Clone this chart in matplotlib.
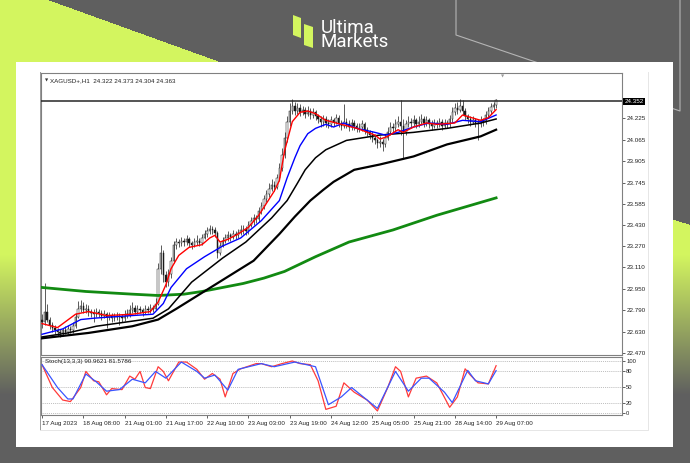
import numpy as np
import matplotlib
matplotlib.use("Agg")
import matplotlib.pyplot as plt
from matplotlib.patches import Rectangle, Polygon

W, H = 690, 463
SMALL = "Liberation Sans"

# XAGUSD H1 candles, 17 Aug 16:00 -> 29 Aug 07:00
first_open = 22.72
closes = [
    22.70, 22.78, 22.72, 22.68, 22.66, 22.64, 22.63, 22.62, 22.64, 22.63,
    22.65, 22.64, 22.67, 22.74, 22.80, 22.82, 22.79, 22.80, 22.78, 22.77,
    22.76, 22.78, 22.77, 22.75, 22.76, 22.74, 22.75, 22.73, 22.74, 22.75,
    22.74, 22.73, 22.75, 22.76, 22.79, 22.81, 22.78, 22.80, 22.79, 22.78,
    22.80, 22.79, 22.81, 22.80, 22.84, 23.10, 23.22, 23.05, 23.00, 23.06,
    23.16, 23.28, 23.30, 23.29, 23.31, 23.30, 23.32, 23.29, 23.28, 23.30,
    23.31, 23.29, 23.33, 23.36, 23.38, 23.40, 23.39, 23.37, 23.22, 23.27,
    23.31, 23.33, 23.35, 23.34, 23.36, 23.35, 23.37, 23.39, 23.40, 23.38,
    23.43, 23.46, 23.48, 23.47, 23.53, 23.57, 23.62, 23.66, 23.70, 23.73,
    23.71, 23.78, 23.85, 23.95, 24.08, 24.20, 24.28, 24.32, 24.28, 24.30,
    24.27, 24.29, 24.26, 24.28, 24.25, 24.27, 24.24, 24.22, 24.20, 24.22,
    24.19, 24.18, 24.21, 24.20, 24.23, 24.19, 24.17, 24.20, 24.18, 24.16,
    24.19, 24.17, 24.15, 24.16, 24.18, 24.14, 24.12, 24.10, 24.08, 24.06,
    24.04, 24.05, 24.03, 24.08, 24.12, 24.16, 24.15, 24.18, 24.20, 24.17,
    24.12, 24.18, 24.20, 24.19, 24.21, 24.18, 24.20, 24.22, 24.19, 24.21,
    24.18, 24.17, 24.19, 24.18, 24.20, 24.17, 24.19, 24.18, 24.22, 24.27,
    24.30, 24.29, 24.32, 24.28, 24.24, 24.22, 24.20, 24.21, 24.19, 24.18,
    24.21, 24.20, 24.25, 24.28, 24.31, 24.322, 24.363,
]
highs = [
    22.76, 22.99, 22.84, 22.74, 22.70, 22.68, 22.66, 22.65, 22.66, 22.67,
    22.68, 22.67, 22.70, 22.77, 22.86, 22.87, 22.85, 22.84, 22.83, 22.80,
    22.80, 22.81, 22.80, 22.79, 22.79, 22.78, 22.78, 22.77, 22.77, 22.78,
    22.77, 22.76, 22.79, 22.80, 22.83, 22.85, 22.83, 22.83, 22.82, 22.81,
    22.83, 22.82, 22.84, 22.83, 22.88, 23.14, 23.28, 23.24, 23.08, 23.10,
    23.19, 23.31, 23.33, 23.32, 23.34, 23.33, 23.35, 23.34, 23.31, 23.33,
    23.35, 23.33, 23.36, 23.39, 23.41, 23.43, 23.42, 23.41, 23.38, 23.30,
    23.34, 23.36, 23.38, 23.37, 23.39, 23.38, 23.40, 23.43, 23.43, 23.42,
    23.46, 23.49, 23.51, 23.50, 23.56, 23.60, 23.65, 23.69, 23.74, 23.77,
    23.76, 23.81, 23.89, 24.00, 24.12, 24.24, 24.34, 24.37, 24.35, 24.34,
    24.33, 24.32, 24.31, 24.32, 24.30, 24.30, 24.29, 24.26, 24.24, 24.25,
    24.24, 24.22, 24.24, 24.23, 24.26, 24.25, 24.21, 24.33, 24.23, 24.21,
    24.22, 24.21, 24.19, 24.19, 24.21, 24.20, 24.16, 24.14, 24.13, 24.11,
    24.08, 24.09, 24.07, 24.11, 24.16, 24.20, 24.19, 24.22, 24.24, 24.36,
    24.22, 24.21, 24.24, 24.23, 24.25, 24.23, 24.24, 24.26, 24.24, 24.24,
    24.23, 24.21, 24.22, 24.21, 24.23, 24.22, 24.22, 24.21, 24.25, 24.31,
    24.34, 24.35, 24.37, 24.36, 24.30, 24.26, 24.24, 24.24, 24.23, 24.22,
    24.24, 24.23, 24.28, 24.31, 24.34, 24.35, 24.373,
]
lows = [
    22.66, 22.68, 22.70, 22.65, 22.63, 22.61, 22.60, 22.59, 22.60, 22.61,
    22.61, 22.62, 22.62, 22.66, 22.73, 22.78, 22.77, 22.77, 22.75, 22.74,
    22.70, 22.74, 22.74, 22.72, 22.73, 22.66, 22.72, 22.70, 22.71, 22.72,
    22.68, 22.70, 22.71, 22.73, 22.74, 22.77, 22.76, 22.76, 22.77, 22.75,
    22.76, 22.77, 22.77, 22.78, 22.79, 22.83, 23.06, 23.00, 22.96, 22.97,
    23.03, 23.14, 23.25, 23.26, 23.27, 23.27, 23.28, 23.26, 23.25, 23.26,
    23.28, 23.27, 23.28, 23.32, 23.34, 23.36, 23.36, 23.34, 23.18, 23.20,
    23.26, 23.29, 23.31, 23.31, 23.32, 23.32, 23.33, 23.35, 23.36, 23.35,
    23.36, 23.41, 23.43, 23.44, 23.45, 23.51, 23.55, 23.60, 23.64, 23.68,
    23.68, 23.70, 23.76, 23.83, 23.93, 24.05, 24.17, 24.26, 24.25, 24.26,
    24.24, 24.25, 24.23, 24.24, 24.22, 24.23, 24.21, 24.19, 24.16, 24.17,
    24.16, 24.15, 24.16, 24.17, 24.18, 24.16, 24.14, 24.15, 24.15, 24.13,
    24.14, 24.14, 24.12, 24.12, 24.13, 24.11, 24.09, 24.07, 24.05, 24.03,
    24.00, 24.01, 23.98, 24.01, 24.06, 24.10, 24.12, 24.13, 24.16, 24.10,
    23.93, 24.10, 24.16, 24.16, 24.17, 24.15, 24.16, 24.18, 24.16, 24.17,
    24.15, 24.14, 24.15, 24.15, 24.16, 24.14, 24.15, 24.15, 24.16, 24.20,
    24.25, 24.26, 24.27, 24.25, 24.21, 24.19, 24.17, 24.18, 24.16, 24.06,
    24.16, 24.17, 24.18, 24.23, 24.26, 24.29, 24.304,
]

# moving averages, sampled at bar indices
red_idx = [0, 6, 13, 18, 25, 35, 42, 45, 48, 50, 53, 57, 62, 65, 67, 69, 72, 76, 80, 84,
           87, 90, 92, 94, 97, 100, 103, 106, 110, 116, 122, 129, 131, 134, 138, 140, 144,
           149, 153, 160, 163, 170, 173, 176]
red_ma = [22.69, 22.66, 22.76, 22.78, 22.75, 22.76, 22.78, 22.85, 22.98, 23.10, 23.20, 23.26,
          23.28, 23.33, 23.35, 23.30, 23.32, 23.36, 23.41, 23.50, 23.59, 23.68, 23.76, 23.98,
          24.20, 24.27, 24.28, 24.26, 24.21, 24.18, 24.15, 24.10, 24.07, 24.09, 24.14, 24.12,
          24.16, 24.19, 24.18, 24.19, 24.25, 24.21, 24.23, 24.29]
blue_idx = [0, 8, 15, 20, 27, 43, 47, 50, 56, 63, 70, 77, 85, 92, 95, 98, 100, 103, 106, 110,
            113, 117, 122, 129, 133, 138, 144, 150, 157, 163, 170, 176]
blue_ma = [22.61, 22.65, 22.72, 22.73, 22.74, 22.76, 22.84, 22.96, 23.10, 23.19, 23.27, 23.33,
           23.46, 23.61, 23.78, 23.93, 24.02, 24.11, 24.15, 24.18, 24.16, 24.19, 24.15, 24.12,
           24.10, 24.12, 24.16, 24.19, 24.18, 24.21, 24.20, 24.25]
mid_idx = [0, 10, 21, 32, 43, 49, 58, 70, 79, 89, 95, 99, 102, 106, 110, 118, 131, 144, 157,
           170, 176]
mid_ma = [22.59, 22.62, 22.67, 22.70, 22.73, 22.80, 23.00, 23.18, 23.30, 23.48, 23.61, 23.74,
          23.84, 23.93, 23.99, 24.06, 24.10, 24.12, 24.15, 24.19, 24.22]
slow_idx = [0, 18, 35, 45, 52, 62, 72, 82, 92, 98, 104, 109, 113, 121, 131, 144, 157, 170, 176]
slow_ma = [22.58, 22.62, 22.67, 22.72, 22.80, 22.92, 23.04, 23.16, 23.36, 23.49, 23.61, 23.69,
           23.75, 23.84, 23.88, 23.94, 24.03, 24.09, 24.14]
green_idx = [0, 17, 35, 45, 55, 62, 78, 86, 94, 106, 119, 136, 153, 176]
green_ma = [22.96, 22.93, 22.91, 22.90, 22.91, 22.93, 22.99, 23.03, 23.08, 23.19, 23.30, 23.39,
            23.50, 23.63]

# Stochastic (13,3,3)
k_idx = [0, 4, 8, 11, 15, 17, 20, 22, 25, 27, 31, 34, 36, 38, 40, 42, 45, 47, 49, 53,
         56, 60, 63, 66, 69, 71, 74, 77, 83, 85, 89, 93, 97, 100, 104, 107, 110, 114, 117, 121,
         126, 130, 134, 137, 139, 142, 145, 149, 153, 158, 161, 164, 166, 169, 173, 176]
k_val = [93, 49, 25, 22, 49, 80, 62, 60, 35, 47, 45, 71, 65, 80, 49, 47, 89, 80, 62, 98,
         98, 84, 65, 76, 65, 31, 76, 85, 95, 95, 89, 95, 100, 95, 93, 62, 7, 13, 58, 40,
         25, 4, 49, 89, 80, 31, 67, 71, 58, 11, 31, 85, 73, 58, 56, 90.96]
d_idx = [0, 6, 10, 12, 17, 21, 25, 30, 35, 40, 44, 48, 54, 60, 63, 67, 72, 76, 85, 90,
         98, 106, 111, 116, 120, 125, 130, 137, 142, 147, 150, 156, 159, 165, 168, 173, 176]
d_val = [93, 49, 27, 27, 75, 60, 42, 45, 65, 58, 80, 67, 98, 80, 67, 73, 44, 84, 95, 89,
         98, 89, 16, 31, 49, 29, 9, 80, 42, 67, 67, 40, 20, 82, 62, 56, 81.58]
stoch_levels = [100, 80, 50, 20, 0]

price_ticks = [22.470, 22.630, 22.790, 22.950, 23.110, 23.270, 23.430, 23.585, 23.745,
               23.905, 24.065, 24.225]
date_idx = [0, 16, 32, 48, 64, 80, 96, 112, 128, 144, 160, 176]
date_labels = ["17 Aug 2023", "18 Aug 08:00", "21 Aug 01:00", "21 Aug 17:00", "22 Aug 10:00",
               "23 Aug 03:00", "23 Aug 19:00", "24 Aug 12:00", "25 Aug 05:00", "25 Aug 21:00",
               "28 Aug 14:00", "29 Aug 07:00"]
resistance = 24.352


def rect(x0, y0, x1, y1):
    return [x0 / W, 1 - y1 / H, (x1 - x0) / W, (y1 - y0) / H]


def fpos(x, y):
    return x / W, 1 - y / H


fig = plt.figure(figsize=(W / 100, H / 100), dpi=100)

# branded background
bg = fig.add_axes([0, 0, 1, 1])
bg.set_xlim(0, W)
bg.set_ylim(H, 0)
bg.axis("off")
yy, xx = np.mgrid[0:H, 0:W] + 0.5
gray = np.array([95, 95, 95]) / 255
lime = np.array([211, 245, 95]) / 255
left_w = (xx < 48 + 2.77 * yy) * np.clip((395 - yy) / 140, 0, 1)
right_w = ((yy > 220 + 0.3 * (xx - 674)) & (xx > 600)) * np.clip((360 - yy) / 120, 0, 1)
wgt = np.maximum(left_w, right_w)[..., None]
bg.imshow(gray * (1 - wgt) + lime * wgt, extent=(0, W, H, 0), aspect="auto", zorder=0)
bg.plot([456, 456, 680, 680], [0, 35, 111, 0], color="#b4b4b4", lw=0.8, zorder=1)
bg.add_patch(Rectangle((16, 62), 657, 385, facecolor="white", edgecolor="none", zorder=2))
bg.plot([40, 40], [72, 430], color="#9a9a9a", lw=0.7, zorder=3)
bg.plot([40, 648, 648], [430, 430, 72], color="#e6e6e6", lw=0.7, zorder=3)

# logo
bg.add_patch(Polygon([(293, 15), (301, 18), (301, 38), (293, 35)], closed=True,
                     facecolor="#d3f55f", edgecolor="none", zorder=3))
bg.add_patch(Polygon([(304, 24), (313, 27), (313, 48), (304, 45)], closed=True,
                     facecolor="#d3f55f", edgecolor="none", zorder=3))
fig.text(*fpos(321, 47), "Ultima\nMarkets", color="white", fontsize=13.5, family="Roboto",
         va="baseline", linespacing=0.74)

# main price window
ax = fig.add_axes(rect(41, 73, 622, 355))
ax.set_xlim(-0.4, 224.8)
ax.set_ylim(22.455, 24.564)
idx = np.arange(len(closes))
c = np.array(closes)
o = np.array([first_open] + closes[:-1])
up = c >= o
ax.vlines(idx, lows, highs, color="#1a1a1a", lw=0.5, zorder=2)
ax.bar(idx[up], (c - o)[up], bottom=o[up], width=0.55, color="white",
       edgecolor="#1a1a1a", lw=0.35, zorder=3)
ax.bar(idx[~up], (o - c)[~up], bottom=c[~up], width=0.55, color="#1a1a1a",
       edgecolor="#1a1a1a", lw=0.35, zorder=3)
ax.plot(green_idx, green_ma, color="#128a12", lw=2.0, zorder=4)
ax.plot(slow_idx, slow_ma, color="black", lw=1.6, zorder=4)
ax.plot(mid_idx, mid_ma, color="black", lw=1.1, zorder=4)
ax.plot(blue_idx, blue_ma, color="#0000ff", lw=1.0, zorder=5)
ax.plot(red_idx, red_ma, color="#ff0000", lw=1.0, zorder=6)
ax.axhline(resistance, color="#262626", lw=1.1, zorder=7)

ax.set_xticks([])
ax.yaxis.tick_right()
ax.set_yticks(price_ticks)
ax.set_yticklabels([f"{v:.3f}" for v in price_ticks], family=SMALL)
ax.tick_params(axis="y", labelsize=4.5, length=2, width=0.5, pad=1, colors="#222222")
for s in ax.spines.values():
    s.set_color("#808080")
    s.set_linewidth(0.8)
ax.text(1.004, resistance, f"{resistance:.3f}", transform=ax.get_yaxis_transform(),
        fontsize=4.5, family=SMALL, color="white", va="center", ha="left",
        bbox=dict(boxstyle="square,pad=0.15", facecolor="black", edgecolor="none"))
fig.text(*fpos(45, 81), "\u25bc", fontsize=3, color="#333333", va="center")
fig.text(*fpos(50, 81), "XAGUSD+,H1  24.322 24.373 24.304 24.363", fontsize=4.5,
         family=SMALL, color="#222222", va="center")
fig.text(*fpos(503, 76), "\u25bc", fontsize=3, color="#9a9a9a", va="center", ha="center")

# stochastic window
ax2 = fig.add_axes(rect(41, 357, 622, 415))
ax2.set_xlim(-0.4, 224.8)
ax2.set_ylim(-3.8, 107.7)
for lv in stoch_levels:
    ax2.axhline(lv, color="#a8a8a8", lw=0.6, ls=(0, (1, 1.3)), zorder=1)
ax2.plot(d_idx, d_val, color="#3a55ff", lw=0.9, zorder=3)
ax2.plot(k_idx, k_val, color="#ff3a3a", lw=0.9, zorder=2)
ax2.yaxis.tick_right()
ax2.set_yticks(stoch_levels)
ax2.set_yticklabels([str(v) for v in stoch_levels], family=SMALL)
ax2.tick_params(axis="y", labelsize=4.2, length=2, width=0.5, pad=1, colors="#222222")
ax2.set_xticks(date_idx)
ax2.set_xticklabels(date_labels, ha="left", family=SMALL)
ax2.tick_params(axis="x", labelsize=4.5, length=2.5, width=0.5, pad=1.5, colors="#222222")
for s in ax2.spines.values():
    s.set_color("#808080")
    s.set_linewidth(0.8)
fig.text(*fpos(45, 362), "Stoch(13,3,3) 90.9621 81.5786", fontsize=4.5, family=SMALL,
         color="#222222", va="center")

fig.savefig("out.png", dpi=100)
